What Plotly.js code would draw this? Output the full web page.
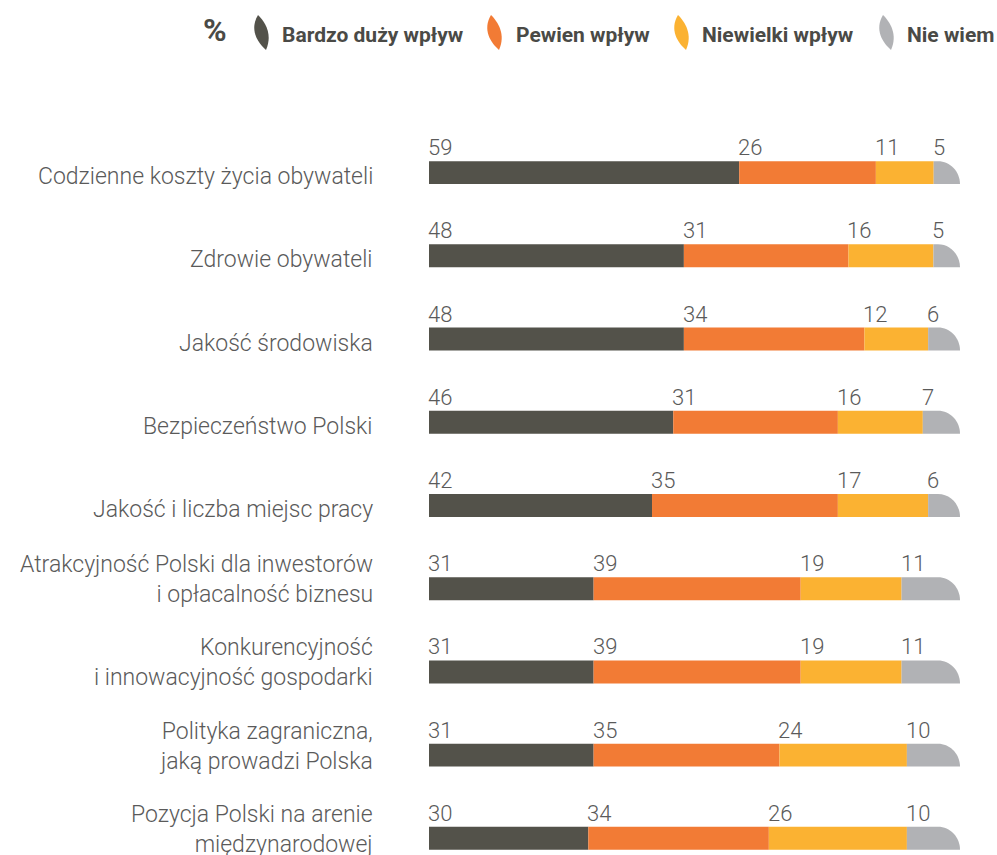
<!DOCTYPE html>
<html>
<head>
<meta charset="utf-8">
<script src="https://cdn.plot.ly/plotly-3.0.1.min.js"></script>
<style>html,body{margin:0;padding:0;background:#fff;}#chart{width:997px;height:855px;}</style>
</head>
<body>
<div id="chart"></div>
<script>
// ---- DATA ----
const categories = [
  "Codzienne koszty życia obywateli",
  "Zdrowie obywateli",
  "Jakość środowiska",
  "Bezpieczeństwo Polski",
  "Jakość i liczba miejsc pracy",
  "Atrakcyjność Polski dla inwestorów<br>i opłacalność biznesu",
  "Konkurencyjność<br>i innowacyjność gospodarki",
  "Polityka zagraniczna,<br>jaką prowadzi Polska",
  "Pozycja Polski na arenie<br>międzynarodowej"
];
const seriesNames = ["Bardzo duży wpływ", "Pewien wpływ", "Niewielki wpływ", "Nie wiem"];
const bardzoDuzy = [59, 48, 48, 46, 42, 31, 31, 31, 30];
const pewien     = [26, 31, 34, 31, 35, 39, 39, 35, 34];
const niewielki  = [11, 16, 12, 16, 17, 19, 19, 24, 26];
const nieWiem    = [5, 5, 6, 7, 6, 11, 11, 10, 10];
const unitLabel = "%";

// ---- STYLE ----
const colors = ["#53524a", "#f27b35", "#fbb232", "#b1b2b5"];
const textColor = "#5a5a5a";
const W = 997, H = 855;
const M = {l: 429, r: 37, t: 131, b: 0};
const plotW = W - M.l - M.r, plotH = H - M.t - M.b;
const barW = 0.276;
const cornerPx = 22;
const lightFont = {family: "Roboto, 'Open Sans', sans-serif", size: 22, color: textColor, weight: 300};
const boldFont = {family: "Roboto, 'Open Sans', sans-serif", size: 21, color: "#4a4a46", weight: 700};

const series = [bardzoDuzy, pewien, niewielki, nieWiem];
const rows = categories.map((_, i) => i);
const totals = rows.map(i => series.reduce((s, a) => s + a[i], 0));
const norm = series.map(a => a.map((v, i) => v * 100 / totals[i]));
const starts = series.map((a, k) => rows.map(i => {
  let s = 0; for (let j = 0; j < k; j++) s += norm[j][i]; return s;
}));

const traces = [0, 1, 2].map(k => ({
  type: "bar", orientation: "h",
  x: norm[k], y: rows, base: starts[k],
  width: barW, name: seriesNames[k],
  marker: {color: colors[k], line: {width: 0}},
  hoverinfo: "skip"
}));

const shapes = [];
const rx = cornerPx * 100 / plotW;
const kap = 0.5523;
rows.forEach(i => {
  const xs = starts[3][i], xe = xs + norm[3][i];
  const yt = i - barW / 2, yb = i + barW / 2, ry = barW;
  const p = `M${xs},${yb} L${xs},${yt} L${xe - rx},${yt} C${xe - rx + kap * rx},${yt} ${xe},${yt + (1 - kap) * ry} ${xe},${yb} Z`;
  shapes.push({type: "path", xref: "x", yref: "y", path: p, fillcolor: colors[3], line: {width: 0}, layer: "above"});
});

const annotations = [];
// value labels
series.forEach((a, k) => rows.forEach(i => {
  annotations.push({
    x: starts[k][i], y: i, xref: "x", yref: "y", text: String(a[i]),
    showarrow: false, xanchor: "left", yanchor: "middle", xshift: -3, yshift: 25,
    font: lightFont
  });
}));
// category labels
const labelRightPx = 375;
categories.forEach((c, i) => {
  const multi = c.indexOf("<br>") >= 0;
  annotations.push({
    x: (labelRightPx - M.l) / plotW, xref: "paper", y: i, yref: "y", text: c,
    showarrow: false, xanchor: "right", yanchor: "middle", align: "right",
    yshift: multi ? 9 : -4, font: Object.assign({}, lightFont, {size: 23})
  });
});

// custom legend
const px2x = px => (px - M.l) / plotW;
const py2y = py => 1 - (py - M.t) / plotH;
annotations.push({
  x: px2x(201), y: py2y(30), xref: "paper", yref: "paper", text: "<b>" + unitLabel + "</b>",
  showarrow: false, xanchor: "left", yanchor: "middle",
  font: Object.assign({}, boldFont, {size: 32})
});
const leafX = [252, 485, 672, 877];
const textX = [280, 514, 700, 905];
seriesNames.forEach((n, k) => {
  const x0 = leafX[k];
  const P = (x, y) => `${px2x(x)},${py2y(y)}`;
  const path = `M${P(x0 + 6, 15)} C${P(x0 + 13, 22)} ${P(x0 + 21, 34)} ${P(x0 + 14, 50)} C${P(x0 + 6, 43)} ${P(x0 - 3, 30)} ${P(x0 + 6, 15)} Z`;
  shapes.push({type: "path", xref: "paper", yref: "paper", path: path, fillcolor: colors[k], line: {width: 0}});
  annotations.push({
    x: px2x(textX[k]), y: py2y(35), xref: "paper", yref: "paper", text: "<b>" + n + "</b>",
    showarrow: false, xanchor: "left", yanchor: "middle", font: boldFont
  });
});

const layout = {
  width: W, height: H, margin: M,
  paper_bgcolor: "#fff", plot_bgcolor: "#fff",
  barmode: "overlay", showlegend: false,
  xaxis: {range: [0, 100], visible: false, fixedrange: true},
  yaxis: {range: [8.2, -0.5], visible: false, fixedrange: true},
  shapes: shapes, annotations: annotations
};
Plotly.newPlot("chart", traces, layout, {displayModeBar: false, staticPlot: true});
</script>
</body>
</html>
